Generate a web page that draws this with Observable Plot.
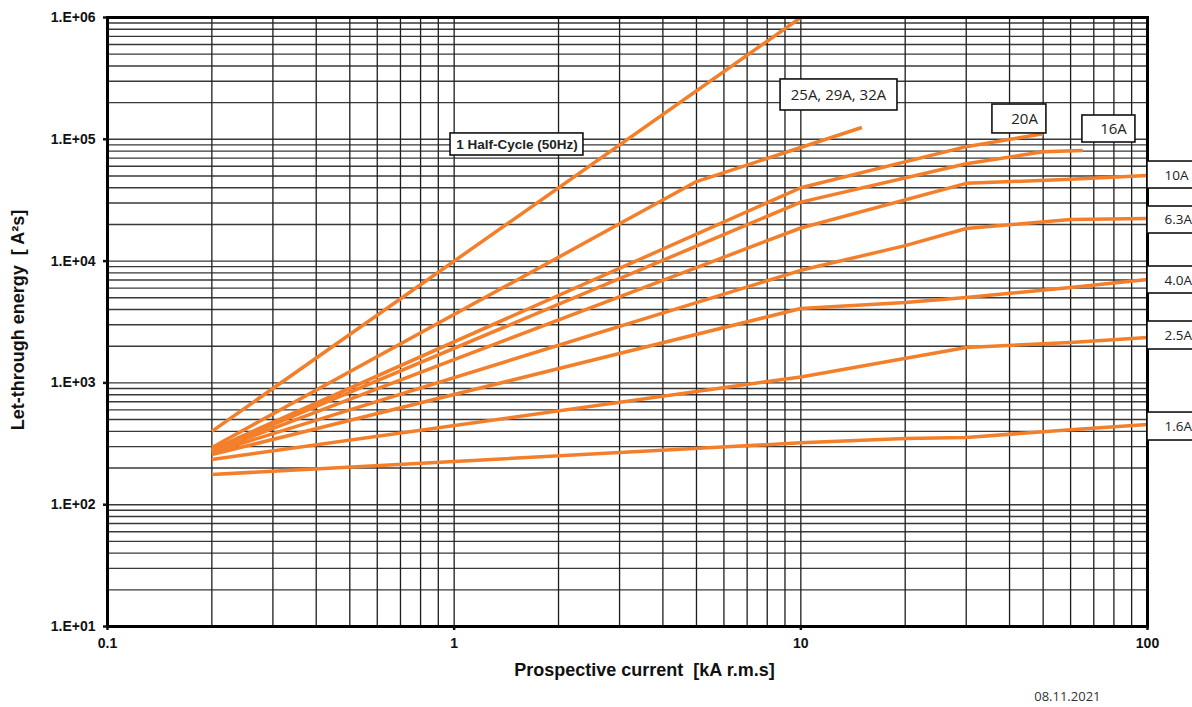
<!DOCTYPE html>
<html>
<head>
<meta charset="utf-8">
<script src="https://cdn.jsdelivr.net/npm/d3@7"></script>
<script src="https://cdn.jsdelivr.net/npm/@observablehq/plot@0.6"></script>
<style>
  html, body { margin: 0; padding: 0; background: #fff; }
  #chart svg { display: block; }
</style>
</head>
<body>
<div id="chart"></div>
<script>
// ---- Data ----
// x: prospective current [kA r.m.s], y: let-through energy [A²s]
const xHalfCycle = [0.2, 10];
const yHalfCycle = [400, 1000000];
const x25A = [0.2, 5, 15];
const y25A = [295, 45000, 125000];
const x20A = [0.2, 10, 30, 50];
const y20A = [284, 40000, 87000, 111000];
const x16A = [0.2, 10, 30, 50, 65];
const y16A = [279, 30500, 63000, 79000, 81000];
const x10A = [0.2, 10, 30, 60, 100];
const y10A = [273, 18700, 43500, 47000, 50500];
const x6_3A = [0.2, 10, 20, 30, 60, 100];
const y6_3A = [268, 8400, 13400, 18500, 22000, 22400];
const x4_0A = [0.2, 10, 20, 30, 60, 100];
const y4_0A = [258, 4080, 4570, 5030, 6070, 7060];
const x2_5A = [0.2, 10, 30, 60, 100];
const y2_5A = [235, 1120, 1950, 2150, 2360];
const x1_6A = [0.2, 10, 20, 30, 60, 100];
const y1_6A = [177, 322, 349, 357, 412, 455];

const seriesNames = ["1 Half-Cycle (50Hz)", "25A, 29A, 32A", "20A", "16A", "10A", "6.3A", "4.0A", "2.5A", "1.6A"];
const seriesX = [xHalfCycle, x25A, x20A, x16A, x10A, x6_3A, x4_0A, x2_5A, x1_6A];
const seriesY = [yHalfCycle, y25A, y20A, y16A, y10A, y6_3A, y4_0A, y2_5A, y1_6A];

// Label boxes (in data units)
const labelText = ["1 Half-Cycle (50Hz)", "25A, 29A, 32A", "20A", "16A", "10A", "6.3A", "4.0A", "2.5A", "1.6A"];
const boxX1 = [0.976, 8.74, 35.7, 64.9, 100, 100, 100, 100, 100];
const boxX2 = [2.36, 19.0, 51.1, 92.3, 150, 150, 150, 150, 150];
const boxYTop = [111700, 310000, 193000, 156800, 65700, 28070, 9030, 3192, 571];
const boxYBottom = [73600, 172400, 111700, 94100, 39450, 16850, 5420, 1880, 336.5];
const labelX = [1.517, 12.84, 44.2, 79.8, 112, 112, 112, 112, 112];
const labelY = [90600, 229000, 145400, 120350, 50500, 21750, 6930, 2450, 438.5];
const labelKind = ["bold", "middle", "middle", "middle", "start", "start", "start", "start", "start"];

// Axis ticks
const xTicks = [0.1, 1, 10, 100];
const xTickLabels = ["0.1", "1", "10", "100"];
const yTicks = [10, 100, 1000, 10000, 100000, 1000000];
const yTickLabels = ["1.E+01", "1.E+02", "1.E+03", "1.E+04", "1.E+05", "1.E+06"];

const xTitle = "Prospective current\u00a0\u00a0[kA r.m.s]";
const yTitle = "Let-through energy\u00a0\u00a0[ A²s]";
const dateText = "08.11.2021";

// ---- Build tables ----
const lineData = seriesNames.flatMap((name, i) =>
  seriesX[i].map((x, j) => ({series: name, x, y: seriesY[i][j]})));
const labels = labelText.map((t, i) => ({
  text: t, x1: boxX1[i], x2: boxX2[i], y1: boxYTop[i], y2: boxYBottom[i],
  lx: labelX[i], ly: labelY[i], kind: labelKind[i]
}));

// minor grid values: 1..9 per decade
const decadeGrid = (lo, hi) => {
  const out = [];
  for (let e = lo; e < hi; e++) for (let m = 1; m <= 9; m++) out.push(m * Math.pow(10, e));
  out.push(Math.pow(10, hi));
  return out;
};
const xGrid = decadeGrid(-1, 2).map(v => +v.toPrecision(6));
const yGrid = decadeGrid(1, 6);

const arial = "'Liberation Sans', Arial, sans-serif";
const sans = "'Open Sans', 'Noto Sans', sans-serif";
const orange = "#f47f2a";

const chart = Plot.plot({
  width: 1192,
  height: 707,
  marginLeft: 107,
  marginRight: 45,
  marginTop: 17,
  marginBottom: 81,
  style: {fontFamily: arial, background: "#fff", color: "#111"},
  x: {type: "log", domain: [0.1, 100]},
  y: {type: "log", domain: [10, 1000000]},
  marks: [
    Plot.gridX(xGrid, {stroke: "#111", strokeOpacity: 0.95, strokeWidth: 1.3}),
    Plot.gridY(yGrid, {stroke: "#222", strokeOpacity: 0.9, strokeWidth: 1.4}),
    Plot.line(lineData, {x: "x", y: "y", z: "series", stroke: orange, strokeWidth: 3.5, strokeLinejoin: "round", strokeLinecap: "butt"}),
    Plot.frame({stroke: "#000", strokeWidth: 3}),
    Plot.axisY(yTicks, {
      tickSize: 4, tickPadding: 8, tickFormat: d => yTickLabels[yTicks.indexOf(d)],
      fontSize: 14, fontWeight: "bold", label: null, strokeWidth: 2.5, fill: "#111"
    }),
    Plot.axisX(xTicks, {
      tickSize: 4, tickPadding: 8, tickFormat: d => xTickLabels[xTicks.indexOf(d)],
      fontSize: 14, fontWeight: "bold", label: null, strokeWidth: 2.5, fill: "#111"
    }),
    Plot.rect(labels, {x1: "x1", x2: "x2", y1: "y1", y2: "y2", fill: "#fff", stroke: "#111", strokeWidth: 1.6}),
    Plot.text(labels.filter(d => d.kind === "bold"), {x: "lx", y: "ly", text: "text", fontSize: 13.5, fontWeight: "bold", fontFamily: arial, fill: "#222"}),
    Plot.text(labels.filter(d => d.kind === "middle"), {x: "lx", y: "ly", text: "text", textAnchor: "middle", fontSize: 15, fontFamily: sans, fill: "#222"}),
    Plot.text(labels.filter(d => d.kind === "start"), {x: "lx", y: "ly", text: "text", textAnchor: "start", fontSize: 13.5, fontFamily: sans, fill: "#222"}),
    Plot.text([xTitle], {frameAnchor: "bottom", dx: 17, dy: 49, fontSize: 18, fontWeight: "bold", fontFamily: arial, fill: "#111"}),
    Plot.text([yTitle], {frameAnchor: "left", textAnchor: "middle", dx: -89, dy: -2, rotate: -90, fontSize: 18, fontWeight: "bold", fontFamily: arial, fill: "#111"}),
    Plot.text([dateText], {frameAnchor: "bottom-right", textAnchor: "end", dx: -47, dy: 74, fontSize: 13, fontFamily: sans, fill: "#333"})
  ]
});
document.getElementById("chart").appendChild(chart);
</script>
</body>
</html>
